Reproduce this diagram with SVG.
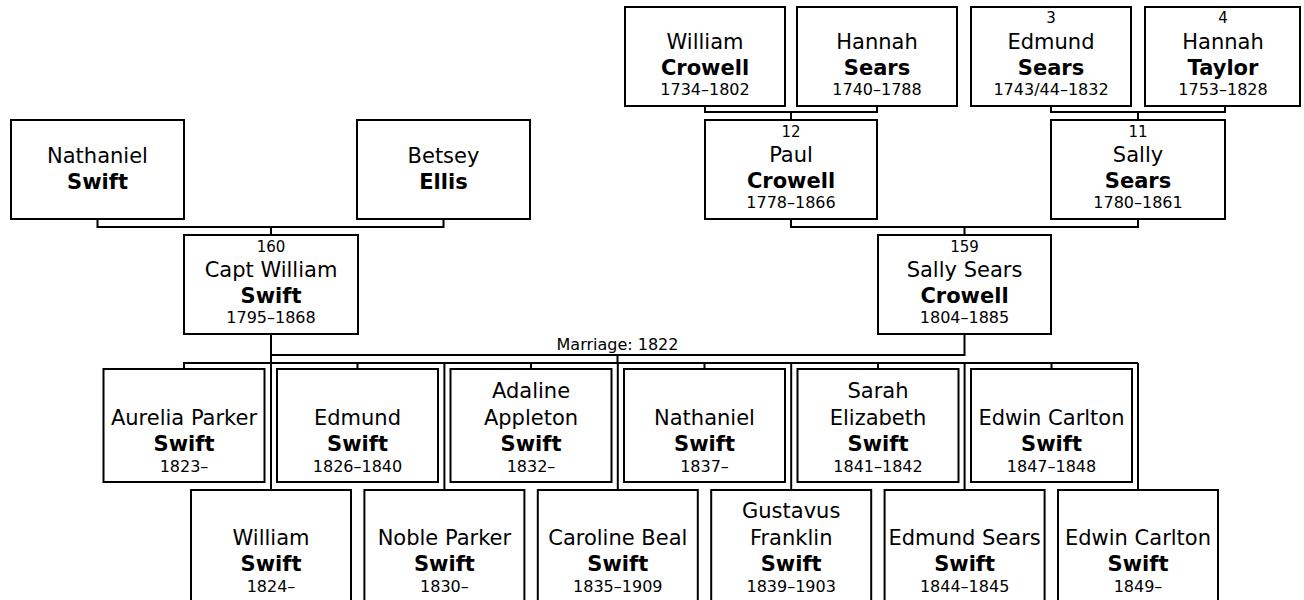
<svg xmlns="http://www.w3.org/2000/svg" width="1304" height="600" viewBox="0 0 1304 600">
<style>
.box{fill:#fff;stroke:#000;stroke-width:2}
.c{fill:none;stroke:#000;stroke-width:2}
text{font-family:"DejaVu Sans","Verdana",sans-serif;fill:#000;text-anchor:middle}
.n{font-size:21px}
.s{font-size:21px;font-weight:bold}
.d{font-size:16px}
.k{font-size:15px}
.m{font-size:16px}
</style>
<rect width="1304" height="600" fill="#fff"/>
<g id="connectors" class="c">
<path d="M705 106V112H877V106M791 112V120"/>
<path d="M1051 106V112H1225V106M1138 112V120"/>
<path d="M97.5 220V227H443.5V220M271 227V235"/>
<path d="M791 219V227H1138V219M964.5 227V235"/>
<path d="M271 334V355H964.5V334M617.5 355V363M271 355V363"/>
<path d="M184 369V363H1138"/>
<path d="M357.5 363V369M531 363V369M704.5 363V369M878 363V369M1051.5 363V369"/>
<path d="M271 363V490M444.4 363V490M617.8 363V490M791.2 363V490M964.6 363V490M1138 363V490"/>
</g>
<text class="m" x="617.5" y="350">Marriage: 1822</text>

<g id="william-crowell"><rect class="box" x="625" y="7" width="160" height="99"/>
<text class="n" x="705" y="49">William</text><text class="s" x="705" y="75">Crowell</text><text class="d" x="705" y="95">1734–1802</text></g>
<g id="hannah-sears"><rect class="box" x="797" y="7" width="160" height="99"/>
<text class="n" x="877" y="49">Hannah</text><text class="s" x="877" y="75">Sears</text><text class="d" x="877" y="95">1740–1788</text></g>
<g id="edmund-sears"><rect class="box" x="971" y="7" width="160" height="99"/>
<text class="k" x="1051" y="23">3</text><text class="n" x="1051" y="49">Edmund</text><text class="s" x="1051" y="75">Sears</text><text class="d" x="1051" y="95">1743/44–1832</text></g>
<g id="hannah-taylor"><rect class="box" x="1145" y="7" width="155" height="99"/>
<text class="k" x="1223" y="23">4</text><text class="n" x="1223" y="49">Hannah</text><text class="s" x="1223" y="75">Taylor</text><text class="d" x="1223" y="95">1753–1828</text></g>

<g id="paul-crowell"><rect class="box" x="705" y="120" width="172" height="99"/>
<text class="k" x="791" y="137">12</text><text class="n" x="791" y="162">Paul</text><text class="s" x="791" y="188">Crowell</text><text class="d" x="791" y="208">1778–1866</text></g>
<g id="sally-sears"><rect class="box" x="1051" y="120" width="174" height="99"/>
<text class="k" x="1138" y="137">11</text><text class="n" x="1138" y="162">Sally</text><text class="s" x="1138" y="188">Sears</text><text class="d" x="1138" y="208">1780–1861</text></g>
<g id="nathaniel-swift-sr"><rect class="box" x="11" y="120" width="173" height="99"/>
<text class="n" x="97.5" y="163">Nathaniel</text><text class="s" x="97.5" y="189">Swift</text></g>
<g id="betsey-ellis"><rect class="box" x="357" y="120" width="173" height="99"/>
<text class="n" x="443.5" y="163">Betsey</text><text class="s" x="443.5" y="189">Ellis</text></g>

<g id="capt-william-swift"><rect class="box" x="184" y="235" width="174" height="99"/>
<text class="k" x="271" y="252">160</text><text class="n" x="271" y="277">Capt William</text><text class="s" x="271" y="303">Swift</text><text class="d" x="271" y="323">1795–1868</text></g>
<g id="sally-sears-crowell"><rect class="box" x="878" y="235" width="173" height="99"/>
<text class="k" x="964.5" y="252">159</text><text class="n" x="964.5" y="277">Sally Sears</text><text class="s" x="964.5" y="303">Crowell</text><text class="d" x="964.5" y="323">1804–1885</text></g>

<g id="aurelia"><rect class="box" x="103.5" y="369" width="161" height="113"/>
<text class="n" x="184" y="425">Aurelia Parker</text><text class="s" x="184" y="451">Swift</text><text class="d" x="184" y="472">1823–</text></g>
<g id="edmund"><rect class="box" x="277" y="369" width="161" height="113"/>
<text class="n" x="357.5" y="425">Edmund</text><text class="s" x="357.5" y="451">Swift</text><text class="d" x="357.5" y="472">1826–1840</text></g>
<g id="adaline"><rect class="box" x="450.5" y="369" width="161" height="113"/>
<text class="n" x="531" y="398">Adaline</text><text class="n" x="531" y="425">Appleton</text><text class="s" x="531" y="451">Swift</text><text class="d" x="531" y="472">1832–</text></g>
<g id="nathaniel"><rect class="box" x="624" y="369" width="161" height="113"/>
<text class="n" x="704.5" y="425">Nathaniel</text><text class="s" x="704.5" y="451">Swift</text><text class="d" x="704.5" y="472">1837–</text></g>
<g id="sarah"><rect class="box" x="797.5" y="369" width="161" height="113"/>
<text class="n" x="878" y="398">Sarah</text><text class="n" x="878" y="425">Elizabeth</text><text class="s" x="878" y="451">Swift</text><text class="d" x="878" y="472">1841–1842</text></g>
<g id="edwin-1847"><rect class="box" x="971" y="369" width="161" height="113"/>
<text class="n" x="1051.5" y="425">Edwin Carlton</text><text class="s" x="1051.5" y="451">Swift</text><text class="d" x="1051.5" y="472">1847–1848</text></g>

<g id="william"><rect class="box" x="191" y="490" width="160" height="113"/>
<text class="n" x="271" y="545">William</text><text class="s" x="271" y="571">Swift</text><text class="d" x="271" y="592">1824–</text></g>
<g id="noble"><rect class="box" x="364.4" y="490" width="160" height="113"/>
<text class="n" x="444.4" y="545">Noble Parker</text><text class="s" x="444.4" y="571">Swift</text><text class="d" x="444.4" y="592">1830–</text></g>
<g id="caroline"><rect class="box" x="537.8" y="490" width="160" height="113"/>
<text class="n" x="617.8" y="545">Caroline Beal</text><text class="s" x="617.8" y="571">Swift</text><text class="d" x="617.8" y="592">1835–1909</text></g>
<g id="gustavus"><rect class="box" x="711.2" y="490" width="160" height="113"/>
<text class="n" x="791.2" y="518">Gustavus</text><text class="n" x="791.2" y="545">Franklin</text><text class="s" x="791.2" y="571">Swift</text><text class="d" x="791.2" y="592">1839–1903</text></g>
<g id="edmund-sears-swift"><rect class="box" x="884.6" y="490" width="160" height="113"/>
<text class="n" x="964.6" y="545">Edmund Sears</text><text class="s" x="964.6" y="571">Swift</text><text class="d" x="964.6" y="592">1844–1845</text></g>
<g id="edwin-1849"><rect class="box" x="1058" y="490" width="160" height="113"/>
<text class="n" x="1138" y="545">Edwin Carlton</text><text class="s" x="1138" y="571">Swift</text><text class="d" x="1138" y="592">1849–</text></g>
</svg>
